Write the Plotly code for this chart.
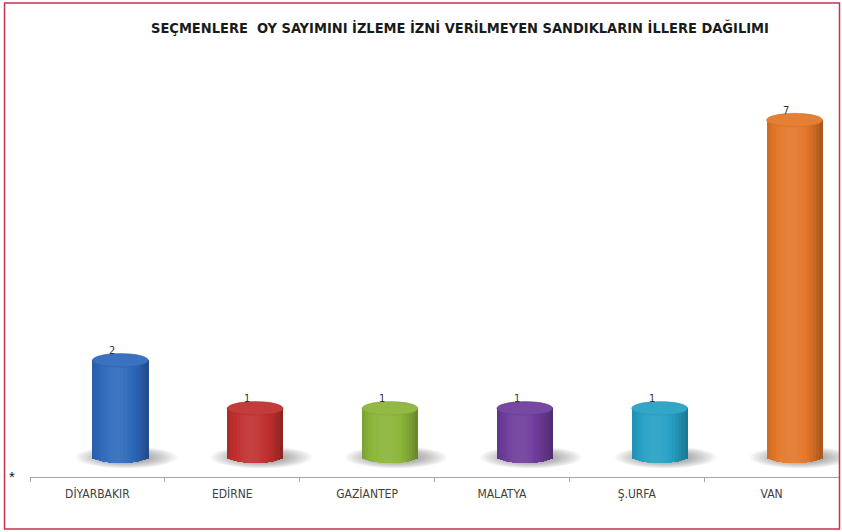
import numpy as np
import plotly.graph_objects as go

# Data
provinces = ["DİYARBAKIR", "EDİRNE", "GAZİANTEP", "MALATYA", "Ş.URFA", "VAN"]
counts = [2, 1, 1, 1, 1, 7]
bar_colors = ["#2e69bb", "#c0302e", "#8ab538", "#6e3d9b", "#26a0c4", "#e4772a"]

TITLE = "SEÇMENLERE  OY SAYIMINI İZLEME İZNİ VERİLMEYEN SANDIKLARIN İLLERE DAĞILIMI"
FONT = "DejaVu Sans Condensed, Liberation Sans Narrow, Liberation Sans"

# Figure geometry (pixels)
W, H = 842, 532
ML, MR, MT, MB = 29.5, 2.5, 60, 55
PW, PH = W - ML - MR, H - MT - MB

BAR_W = 0.415      # cylinder width in category units
SHIFT = 0.17       # depth offset of the cylinders to the right of their category
DY = 0.14          # half-height of the elliptical caps in value units
N_STRIPS = 18


def hex_rgb(h):
    h = h.lstrip("#")
    return tuple(int(h[i:i + 2], 16) for i in (0, 2, 4))


def shade(h, m):
    r, g, b = hex_rgb(h)
    if m >= 1:
        t = min(m - 1, 1)
        r, g, b = (c + (255 - c) * t for c in (r, g, b))
    else:
        r, g, b = (c * m for c in (r, g, b))
    return f"rgb({int(r)},{int(g)},{int(b)})"


def brightness(u):
    # light band slightly left of centre, darker edges
    return 0.72 + 0.36 * (1 - ((u + 0.15) / 1.15) ** 2)


fig = go.Figure()

xs = np.arange(len(provinces))
vals = np.array(counts, dtype=float)

# Cylinder bodies: vertical strips with shading, rounded at the bottom
for k in range(N_STRIPS):
    u = -1 + (2 * k + 1) / N_STRIPS
    depth = DY * np.sqrt(max(1 - u * u, 0))
    base = np.full(len(vals), -depth)
    fig.add_trace(go.Bar(
        x=provinces,
        y=vals - base,
        base=base,
        width=BAR_W / N_STRIPS * 1.1,
        offset=SHIFT - BAR_W / 2 + k * BAR_W / N_STRIPS,
        marker=dict(color=[shade(c, brightness(u)) for c in bar_colors], line=dict(width=0)),
        hoverinfo="skip",
        showlegend=False,
    ))

shapes = []
# Soft floor shadows under each cylinder, a little heavier to the right
N_SH = 16
for i in xs:
    for s in range(N_SH):
        f = 1 - s / N_SH
        cx = i + SHIFT + 0.04
        shapes.append(dict(
            type="circle", xref="x", yref="y", layer="below",
            x0=cx - 0.37 * f, x1=cx + 0.38 * f,
            y0=-0.03 - 0.22 * f, y1=-0.03 + 0.24 * f,
            fillcolor="rgba(60,60,60,0.05)", line=dict(width=0),
        ))

# Top caps
for i, v, c in zip(xs, vals, bar_colors):
    shapes.append(dict(
        type="circle", xref="x", yref="y", layer="above",
        x0=i + SHIFT - BAR_W / 2, x1=i + SHIFT + BAR_W / 2, y0=v - DY, y1=v + DY,
        fillcolor=shade(c, 1.06), line=dict(color=shade(c, 0.9), width=0.5),
    ))


def paper_x(px):
    return (px - ML) / PW


def paper_y(py):
    return (H - MB - py) / PH


# Outer frame
shapes.append(dict(
    type="rect", xref="paper", yref="paper",
    x0=paper_x(4), x1=paper_x(840), y0=paper_y(529), y1=paper_y(3),
    line=dict(color="#c0344f", width=1.5), fillcolor="rgba(0,0,0,0)",
))

annotations = [
    dict(text="<b>" + TITLE + "</b>", xref="paper", yref="paper",
         x=paper_x(460), y=paper_y(27), showarrow=False,
         xanchor="center", yanchor="middle",
         font=dict(family=FONT, size=14.5, color="#1a1a1a")),
    dict(text="*", xref="paper", yref="paper",
         x=paper_x(11), y=paper_y(476), showarrow=False,
         xanchor="center", yanchor="middle",
         font=dict(family="Liberation Sans", size=15, color="#111111")),
]

# Value labels just above each cap
for i, v, c in zip(xs, vals, counts):
    annotations.append(dict(
        text=str(c), x=i + SHIFT - 0.06, y=v + DY + 0.06, xref="x", yref="y",
        showarrow=False, xanchor="center", yanchor="middle",
        font=dict(family=FONT, size=11, color="#333333"),
    ))

fig.update_layout(
    width=W, height=H,
    margin=dict(l=ML, r=MR, t=MT, b=MB, pad=0),
    paper_bgcolor="white", plot_bgcolor="white",
    barmode="overlay", bargap=0,
    shapes=shapes, annotations=annotations,
    xaxis=dict(
        type="category", range=[-0.5, len(provinces) - 0.5],
        showline=True, linecolor="#a6a6a6", linewidth=1.2,
        ticks="outside", tickson="boundaries", ticklen=4, tickcolor="#a6a6a6",
        showgrid=False, zeroline=False,
        tickfont=dict(family=FONT, size=12, color="#404040"),
        ticklabelstandoff=5,
        fixedrange=True,
    ),
    yaxis=dict(
        range=[-0.43, 8.25], visible=False, showgrid=False, zeroline=False, fixedrange=True,
    ),
)

fig.write_html("out.html")
